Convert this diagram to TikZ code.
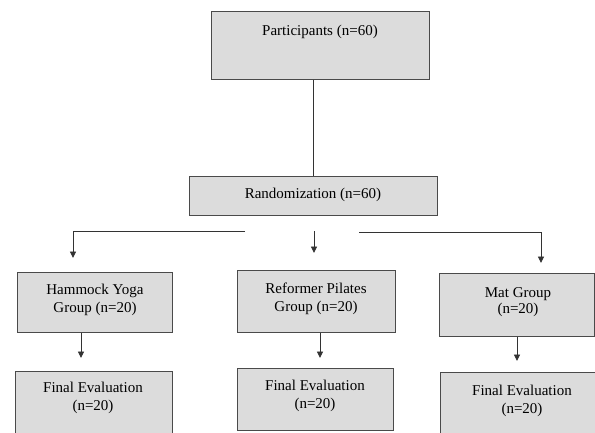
\documentclass[tikz,border=0pt]{standalone}
\usepackage{fontspec}
\setmainfont{Liberation Serif}
\usetikzlibrary{arrows.meta}
\definecolor{boxfill}{HTML}{DCDCDC}
\definecolor{boxline}{HTML}{4A4A4A}
\definecolor{conn}{HTML}{333333}
\tikzset{
  box/.style={draw=boxline, fill=boxfill, line width=1pt, rectangle, inner sep=0pt},
  txt/.style={font=\fontsize{15}{18}\selectfont, align=center, inner sep=0pt, text=black},
  conline/.style={draw=conn, line width=0.9pt},
  arr/.style={conline, -{Triangle[length=6.5pt,width=6pt]}}
}
\begin{document}
\begin{tikzpicture}[x=1pt,y=-1pt]
\useasboundingbox (0,0) rectangle (595,432);
\clip (0,0) rectangle (595,432);
% boxes
\node[box, minimum width=218pt, minimum height=68pt] (p) at (320,45) {};
\node[box, minimum width=248pt, minimum height=39pt] (r) at (313,195.5) {};
\node[box, minimum width=155pt, minimum height=60pt] (h) at (94.5,302) {};
\node[box, minimum width=158pt, minimum height=62pt] (f) at (316,301) {};
\node[box, minimum width=155pt, minimum height=63pt] (m) at (517,304.5) {};
\node[box, minimum width=157pt, minimum height=70pt] (hf) at (93.5,406) {};
\node[box, minimum width=156pt, minimum height=62pt] (ff) at (315,399) {};
\node[box, minimum width=155pt, minimum height=70pt] (mf) at (517.5,407) {};
% texts
\node[txt] (pt) at (320,32) {Participants (n=60)};
\node[txt] (rt) at (313,195) {Randomization (n=60)};
\node[txt] (ht) at (95,300) {Hammock Yoga\\Group (n=20)};
\node[txt] (ft) at (316,299) {Reformer Pilates\\Group (n=20)};
\node[txt, font=\fontsize{15}{16}\selectfont] (mt) at (518,302) {Mat Group\\(n=20)};
\node[txt] (hft) at (93,398) {Final Evaluation\\(n=20)};
\node[txt] (fft) at (315,396) {Final Evaluation\\(n=20)};
\node[txt] (mft) at (522,401) {Final Evaluation\\(n=20)};
% connectors
\draw[conline] (p.south -| r.north) -- (r.north);
\coordinate (ls) at (245,231);
\coordinate (le) at (73,258);
\draw[arr] (ls) -| (le);
\coordinate (ms) at (314,231);
\coordinate (me) at (314,253);
\draw[arr] (ms) -- (me);
\coordinate (rs) at (359,232);
\coordinate (re) at (541,263);
\draw[arr] (rs) -| (re);
\coordinate (hd) at (81,358);
\draw[arr] (h.south -| hd) -- (hd);
\coordinate (fd) at (320,358);
\draw[arr] (f.south -| fd) -- (fd);
\coordinate (md) at (517,361);
\draw[arr] (m.south -| md) -- (md);
\end{tikzpicture}
\end{document}
